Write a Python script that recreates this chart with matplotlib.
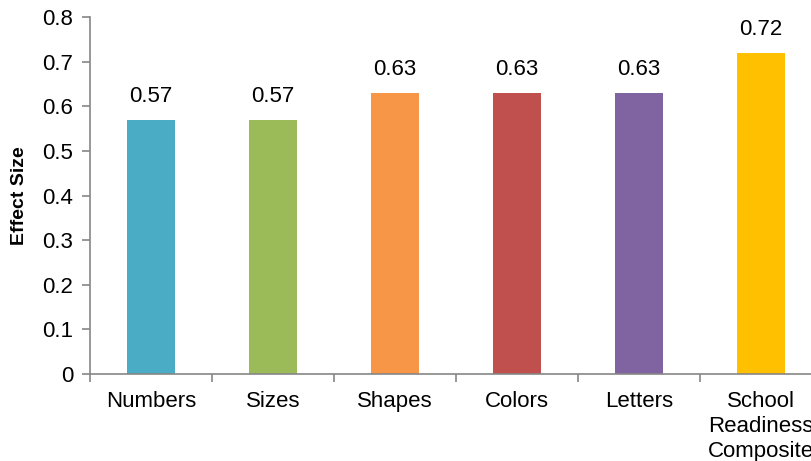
import matplotlib
matplotlib.use('Agg')
import matplotlib.pyplot as plt
import numpy as np

categories = ['Numbers', 'Sizes', 'Shapes', 'Colors', 'Letters',
              'School\nReadiness\nComposite']
effect_sizes = [0.57, 0.57, 0.63, 0.63, 0.63, 0.72]
bar_colors = ['#4BACC6', '#9BBB59', '#F79646', '#C0504D', '#8064A2', '#FFC000']
y_ticks = [0, 0.1, 0.2, 0.3, 0.4, 0.5, 0.6, 0.7, 0.8]
y_tick_labels = ['0', '0.1', '0.2', '0.3', '0.4', '0.5', '0.6', '0.7', '0.8']

plt.rcParams['font.family'] = ['Liberation Sans', 'DejaVu Sans']

fig = plt.figure(figsize=(8.12, 4.61), dpi=100)
ax = fig.add_axes([0.1108, 0.1887, 0.9015, 0.7744])

x = np.arange(len(categories))
bars = ax.bar(x, effect_sizes, width=0.4, color=bar_colors)

for bar, val in zip(bars, effect_sizes):
    ax.annotate(f'{val:.2f}', (bar.get_x() + bar.get_width() / 2, val),
                xytext=(0, 9), textcoords='offset points',
                ha='center', va='bottom', fontsize=16)

ax.set_xlim(-0.5, len(categories) - 0.5)
ax.set_ylim(0, 0.8)
ax.set_yticks(y_ticks)
ax.set_yticklabels(y_tick_labels, fontsize=16)
ax.set_xticks(x)
ax.set_xticklabels(categories, fontsize=16, linespacing=1.25)
ax.set_xticks(np.arange(len(categories) + 1) - 0.5, minor=True)

spine_color = '#868686'
for side in ['top', 'right']:
    ax.spines[side].set_visible(False)
for side in ['left', 'bottom']:
    ax.spines[side].set_color(spine_color)
    ax.spines[side].set_linewidth(1.2)

ax.tick_params(axis='y', direction='out', length=6, width=1.2,
               color=spine_color, pad=6)
ax.tick_params(axis='x', which='major', length=0, pad=12)
ax.tick_params(axis='x', which='minor', direction='out', length=6,
               width=1.2, color=spine_color)

ax.set_ylabel('Effect Size', fontsize=14, fontweight='bold', labelpad=10)

fig.savefig('out.png', dpi=100, facecolor='white')
plt.close(fig)
